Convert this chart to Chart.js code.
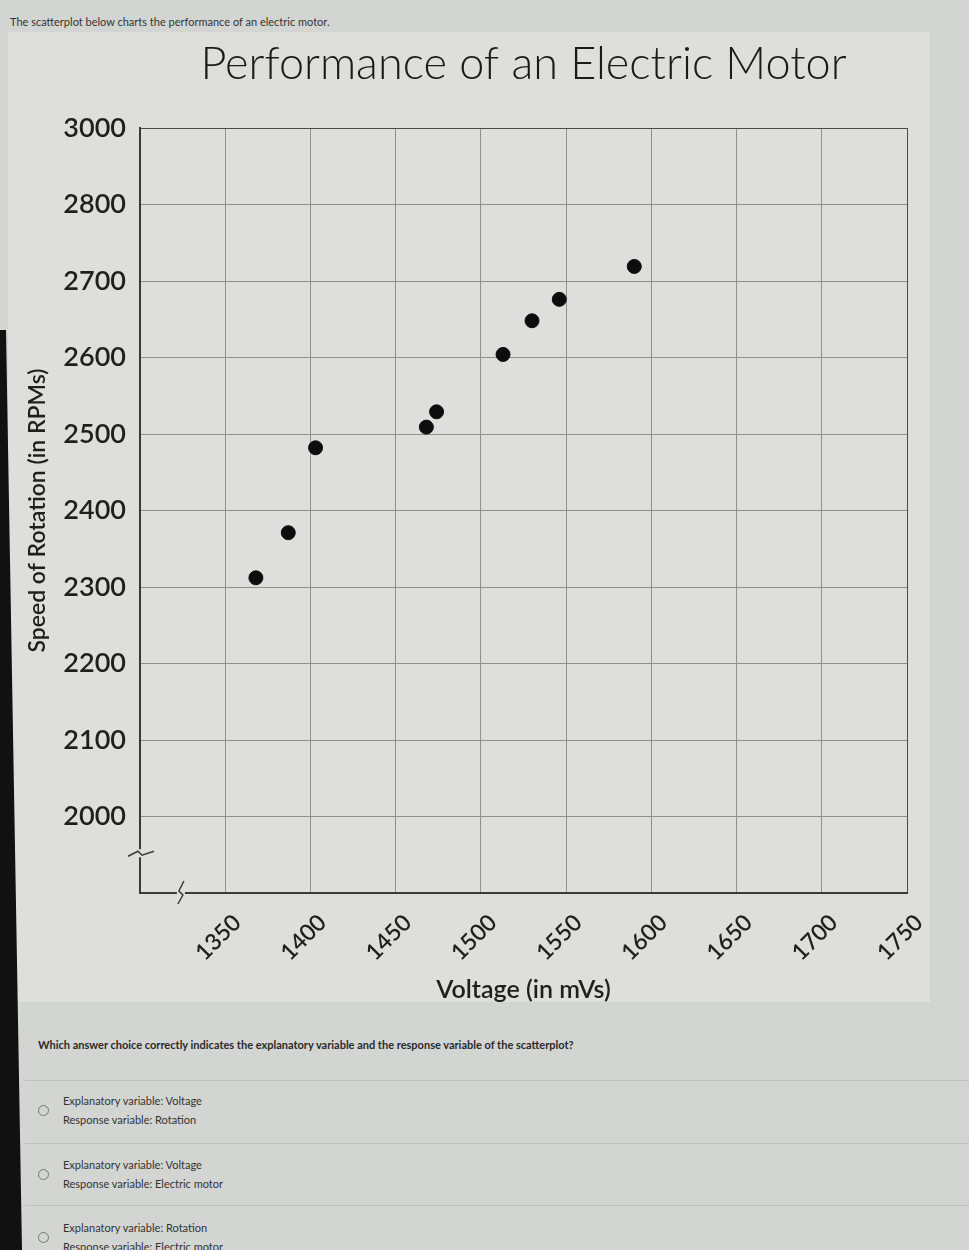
<!DOCTYPE html>
<html>
<head>
<meta charset="utf-8">
<script src="https://cdn.jsdelivr.net/npm/chart.js@4.4.1/dist/chart.umd.min.js"></script>
<style>
  body { margin: 0; width: 969px; height: 1250px; background: #d3d5d2; position: relative; overflow: hidden; font-family: Lato, "Open Sans", sans-serif; color: #222; }
  #panel { position: absolute; left: 8px; top: 32px; width: 922px; height: 970px; background: #dedfdc; }
  #chart-box { position: absolute; left: 0; top: 0; width: 969px; height: 1010px; }
  #intro { position: absolute; left: 10px; top: 15px; font-size: 11px; color: #333; }
  #question { position: absolute; left: 38px; top: 1038px; font-size: 11px; font-weight: 700; color: #2a2a2a; }
  .sep { position: absolute; left: 25px; width: 944px; height: 1px; background: #bfc1be; }
  .choice { position: absolute; left: 63px; font-size: 11px; line-height: 19px; color: #333; }
  .radio { position: absolute; left: 38px; width: 9px; height: 9px; border: 1.5px solid #777; border-radius: 50%; }
  #bezel { position: absolute; left: 0; top: 0; width: 30px; height: 1250px; background: #111; clip-path: polygon(0 330px, 6px 330px, 22px 1250px, 0 1250px); }
</style>
</head>
<body>
<div id="panel"></div>
<div id="intro">The scatterplot below charts the performance of an electric motor.</div>
<div id="chart-box"><canvas id="motor-chart" width="969" height="1010"></canvas></div>

<div id="question">Which answer choice correctly indicates the explanatory variable and the response variable of the scatterplot?</div>
<div class="sep" style="top:1080px"></div>
<div class="radio" style="top:1105px"></div>
<div class="choice" style="top:1091px">Explanatory variable: Voltage<br>Response variable: Rotation</div>
<div class="sep" style="top:1143px"></div>
<div class="radio" style="top:1169px"></div>
<div class="choice" style="top:1155px">Explanatory variable: Voltage<br>Response variable: Electric motor</div>
<div class="sep" style="top:1205px"></div>
<div class="radio" style="top:1232px"></div>
<div class="choice" style="top:1218px">Explanatory variable: Rotation<br>Response variable: Electric motor</div>
<div id="bezel"></div>

<script>
// Данные: напряжение (мВ) и скорость вращения (об/мин)
const voltage = [1368, 1387, 1403, 1468, 1474, 1513, 1530, 1546, 1590];
const rpm = [2312, 2371, 2482, 2509, 2529, 2604, 2648, 2676, 2719];

// Ось X: 1300 — место разрыва, подписи нет
const xTickValues = [1300, 1350, 1400, 1450, 1500, 1550, 1600, 1650, 1700, 1750];
const xTickLabels = ['', '1350', '1400', '1450', '1500', '1550', '1600', '1650', '1700', '1750'];

// Ось Y с разрывом: верхняя линия подписана 3000, нижняя без подписи
const yTickValues = [1900, 2000, 2100, 2200, 2300, 2400, 2500, 2600, 2700, 2800, 2900];
const yTickLabels = ['', '2000', '2100', '2200', '2300', '2400', '2500', '2600', '2700', '2800', '3000'];

const points = voltage.map((v, i) => ({ x: v, y: rpm[i] }));

// Значки разрыва осей в левом нижнем углу
const axisBreaks = {
    id: 'axisBreaks',
    afterDraw(chart) {
        const { ctx, scales: { x, y } } = chart;
        const left = x.getPixelForValue(1300);
        const bottom = y.getPixelForValue(1900);
        const yb = y.getPixelForValue(1952);
        const xb = x.getPixelForValue(1324);
        ctx.save();
        ctx.fillStyle = '#dedfdc';
        ctx.fillRect(left - 3, yb - 4, 6, 8);
        ctx.fillRect(xb - 4, bottom - 3, 8, 6);
        ctx.strokeStyle = '#3a3a3a';
        ctx.lineWidth = 1.5;
        ctx.beginPath();
        ctx.moveTo(left - 12, yb + 3);
        ctx.lineTo(left - 2, yb - 2);
        ctx.lineTo(left + 2, yb + 2);
        ctx.lineTo(left + 14, yb - 2);
        ctx.stroke();
        ctx.beginPath();
        ctx.moveTo(xb - 3, bottom + 11);
        ctx.lineTo(xb + 2, bottom + 2);
        ctx.lineTo(xb - 2, bottom - 2);
        ctx.lineTo(xb + 3, bottom - 12);
        ctx.stroke();
        ctx.restore();
    }
};

const ctx = document.getElementById('motor-chart').getContext('2d');
new Chart(ctx, {
    type: 'scatter',
    data: {
        datasets: [{
            label: 'Performance',
            data: points,
            backgroundColor: '#0d0d0d',
            borderColor: '#0d0d0d',
            pointRadius: 7,
            pointHoverRadius: 7
        }]
    },
    options: {
        responsive: false,
        animation: false,
        devicePixelRatio: 1,
        layout: { padding: { left: 0, right: 62, top: 0, bottom: 0 } },
        plugins: {
            legend: { display: false },
            tooltip: { enabled: false },
            title: {
                display: true,
                fullSize: false,
                text: 'Performance of an Electric Motor',
                color: '#1a1a1a',
                font: { family: 'Lato, "Open Sans", sans-serif', size: 45, weight: '300', lineHeight: 1.2 },
                padding: { top: 37, bottom: 37 }
            }
        },
        scales: {
            x: {
                type: 'linear',
                min: 1300,
                max: 1750,
                afterBuildTicks: scale => { scale.ticks = xTickValues.map(v => ({ value: v })); },
                afterFit: scale => { scale.height = 117; },
                ticks: {
                    autoSkip: false,
                    maxRotation: 45,
                    minRotation: 45,
                    padding: 16,
                    labelOffset: 12,
                    color: '#1f1f1f',
                    font: { family: 'Lato, sans-serif', size: 23, weight: '600' },
                    callback: v => xTickLabels[xTickValues.indexOf(v)]
                },
                grid: {
                    drawTicks: false,
                    lineWidth: 1,
                    color: c => (c.tick && c.tick.value === 1750) ? '#4a4a4a' : '#8f918e'
                },
                border: { color: '#3a3a3a', width: 2 },
                title: {
                    display: true,
                    text: 'Voltage (in mVs)',
                    color: '#1f1f1f',
                    font: { family: 'Lato, sans-serif', size: 25, weight: '600', lineHeight: 1.2 },
                    padding: { top: 0, bottom: 5 }
                }
            },
            y: {
                type: 'linear',
                min: 1900,
                max: 2900,
                afterBuildTicks: scale => { scale.ticks = yTickValues.map(v => ({ value: v })); },
                afterFit: scale => { scale.width = 140; },
                ticks: {
                    autoSkip: false,
                    padding: 14,
                    color: '#1f1f1f',
                    font: { family: 'Lato, sans-serif', size: 27, weight: '600' },
                    callback: v => yTickLabels[yTickValues.indexOf(v)]
                },
                grid: {
                    drawTicks: false,
                    lineWidth: 1,
                    color: c => (c.tick && c.tick.value === 2900) ? '#4a4a4a' : '#8f918e'
                },
                border: { color: '#3a3a3a', width: 2 },
                title: {
                    display: true,
                    text: 'Speed of Rotation (in RPMs)',
                    color: '#1f1f1f',
                    font: { family: 'Lato, sans-serif', size: 23, weight: '600', lineHeight: 1.2 },
                    padding: { top: 24, bottom: 0 }
                }
            }
        }
    },
    plugins: [axisBreaks]
});
</script>
</body>
</html>
